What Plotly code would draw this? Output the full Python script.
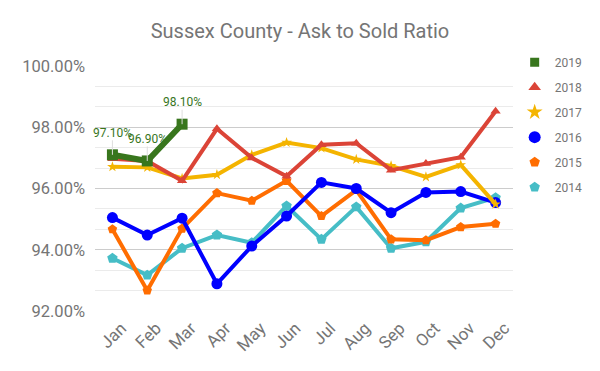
import plotly.graph_objects as go

months = ["Jan", "Feb", "Mar", "Apr", "May", "Jun", "Jul", "Aug", "Sep", "Oct", "Nov", "Dec"]

y2019 = [97.10, 96.90, 98.10]
y2018 = [96.97, 96.90, 96.25, 97.95, 97.00, 96.40, 97.43, 97.48, 96.60, 96.82, 97.02, 98.52]
y2017 = [96.71, 96.69, 96.33, 96.45, 97.10, 97.50, 97.32, 96.95, 96.74, 96.38, 96.77, 95.49]
y2016 = [95.05, 94.48, 95.03, 92.89, 94.12, 95.10, 96.20, 96.00, 95.21, 95.87, 95.90, 95.54]
y2015 = [94.67, 92.67, 94.69, 95.85, 95.60, 96.25, 95.10, 95.95, 94.34, 94.31, 94.74, 94.85]
y2014 = [93.72, 93.17, 94.05, 94.48, 94.23, 95.43, 94.34, 95.40, 94.05, 94.26, 95.36, 95.70]

labels2019 = ["97.10%", "96.90%", "98.10%"]

series = [
    ("2019", y2019, "#38761d", "square", 11, 6),
    ("2018", y2018, "#db4437", "triangle-up", 9, 4),
    ("2017", y2017, "#f4b400", "star", 8, 4),
    ("2016", y2016, "#0000ff", "circle", 11, 4),
    ("2015", y2015, "#ff6d01", "pentagon", 10, 4),
    ("2014", y2014, "#46bdc6", "pentagon", 11, 4),
]

fig = go.Figure()
# draw order: older first so 2019 on top
for name, ys, color, sym, msize, lw in reversed(series):
    fig.add_trace(go.Scatter(
        x=months[:len(ys)], y=ys, name=name, mode="lines+markers",
        line=dict(color=color, width=lw),
        marker=dict(symbol=sym, size=msize, color=color),
        showlegend=False,
    ))

# legend-only marker entries
legend_sizes = {"2019": 9, "2018": 11, "2017": 12, "2016": 12, "2015": 11, "2014": 11}
for name, ys, color, sym, msize, lw in series:
    fig.add_trace(go.Scatter(
        x=[None], y=[None], name=name, mode="markers", legendgroup=name,
        marker=dict(symbol=sym, size=legend_sizes[name], color=color),
        showlegend=True,
    ))

for m, v, t in zip(months, y2019, labels2019):
    fig.add_annotation(x=m, y=v, text=t, showarrow=True, arrowhead=0,
                       arrowcolor="#dddddd", arrowwidth=1, ax=0, ay=-22,
                       font=dict(family="Roboto", size=12, color="#38761d"),
                       bgcolor="rgba(255,255,255,0)", borderpad=0)

fig.update_layout(
    width=600, height=371,
    margin=dict(l=95, r=87, t=66, b=60, autoexpand=False),
    paper_bgcolor="white", plot_bgcolor="white",
    title=dict(text="Sussex County - Ask to Sold Ratio", x=0.5, xanchor="center",
               xref="container", y=1 - 31 / 371, yanchor="middle", yref="container",
               font=dict(family="Roboto", size=20, color="#757575")),
    legend=dict(x=1.004, xanchor="left", y=1.075, yanchor="top",
                font=dict(family="Roboto", size=12, color="#757575"),
                itemsizing="trace", tracegroupgap=6, itemwidth=30,
                bgcolor="rgba(0,0,0,0)"),
    font=dict(family="Roboto"),
    showlegend=True,
    hovermode=False,
)

fig.update_xaxes(
    type="category", range=[-0.5, 11.5], showgrid=False, showline=False, zeroline=False,
    tickangle=-45, tickfont=dict(family="Roboto", size=17, color="#757575"),
    ticks="", ticklabelshift=9, ticklabelstandoff=3,
)
fig.update_yaxes(
    range=[92, 100], tick0=92, dtick=2, tickformat=".2f", ticksuffix="%",
    showgrid=True, gridcolor="#cccccc", gridwidth=1, zeroline=False,
    tickfont=dict(family="Roboto", size=16.5, color="#757575"),
    minor=dict(tick0=92, dtick=2 / 3, showgrid=True, gridcolor="#ebebeb", gridwidth=1),
    ticks="", ticklabelstandoff=9,
)

fig.write_html("out.html", config={"displayModeBar": False},
               post_script="document.body.style.margin='0px';")
